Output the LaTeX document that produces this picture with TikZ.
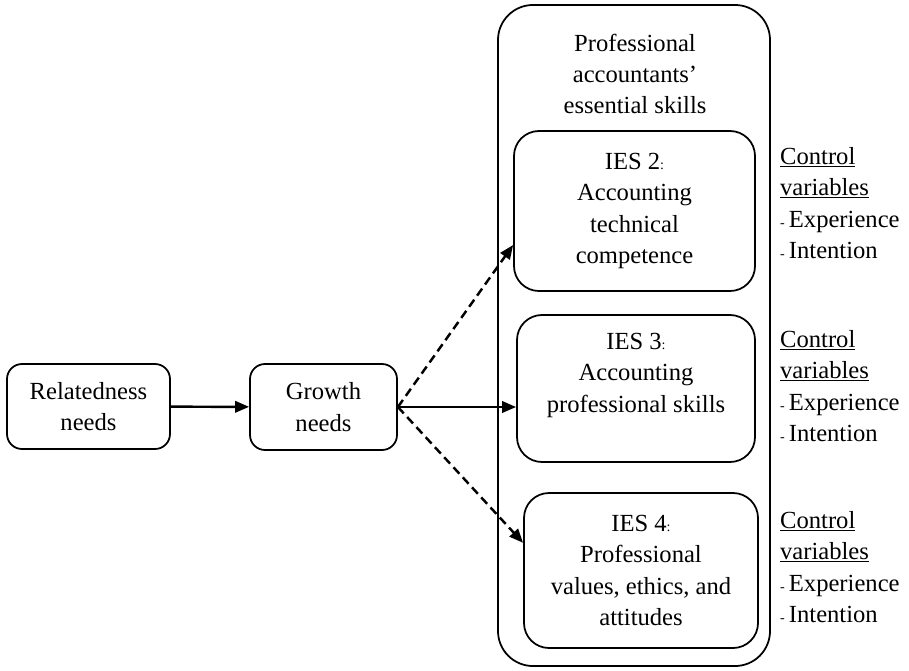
\documentclass[tikz,border=0pt]{standalone}
\usepackage{fontspec}
\setmainfont{Liberation Serif}
\usetikzlibrary{arrows.meta}
\newcommand{\smallcolon}{{\fontsize{12}{12}\selectfont:}}
\newcommand{\smalldash}{{\fontsize{12}{12}\selectfont-}\,}

\begin{document}
\begin{tikzpicture}[x=0.03cm,y=-0.03cm,font=\fontsize{21}{26.8}\selectfont,
  needbox/.style={draw,rounded corners=0.45cm,line width=1.5pt,align=center,inner sep=0pt},
  iesbox/.style={needbox,rounded corners=0.75cm},
  link/.style={line width=2.1pt,-{Triangle[length=0.42cm,width=0.34cm]}},
  dashlink/.style={link,dash pattern=on 0.26cm off 0.15cm}]
\useasboundingbox (0,0) rectangle (909,670);
\node[needbox,rounded corners=1.05cm,minimum width=8.16cm,minimum height=19.83cm] (skills) at (634,335.5) {};
\node[align=center] (title) at (635,74) {Professional\\accountants'\\essential skills};
\node[needbox,minimum width=4.89cm,minimum height=2.55cm] (rel) at (88.5,406.5) {Relatedness\\needs};
\node[needbox,minimum width=4.41cm,minimum height=2.58cm] (growth) at (323.5,407) {Growth\\needs};
\node[iesbox,minimum width=7.23cm,minimum height=4.8cm] (ies2) at (634.5,211) {IES 2\smallcolon\\Accounting\\technical\\competence};
\node[iesbox,minimum width=7.14cm,minimum height=4.41cm] (ies3) at (636,388.5) {IES 3\smallcolon\\Accounting\\professional skills\\\mbox{}};
\node[iesbox,minimum width=7.02cm,minimum height=4.65cm] (ies4) at (641,570.5) {IES 4\smallcolon\\Professional\\values, ethics, and\\attitudes};
% control variables
\node[anchor=west,align=left] (ctl2) at (776,203) {\underline{Control}\\\underline{variables}\\\smalldash Experience\\\smalldash Intention};
\node[anchor=west,align=left] (ctl3) at (776,386) {\underline{Control}\\\underline{variables}\\\smalldash Experience\\\smalldash Intention};
\node[anchor=west,align=left] (ctl4) at (776,567) {\underline{Control}\\\underline{variables}\\\smalldash Experience\\\smalldash Intention};
% arrows
\draw[link] (rel) -- (growth);
\draw[dashlink] (growth.east) -- ([yshift=-1.02cm]ies2.west);
\draw[link] (growth.east) -- (growth.east -| ies3.west);
\draw[dashlink] (growth.east) -- ([yshift=0.83cm]ies4.west);
\end{tikzpicture}
\end{document}
